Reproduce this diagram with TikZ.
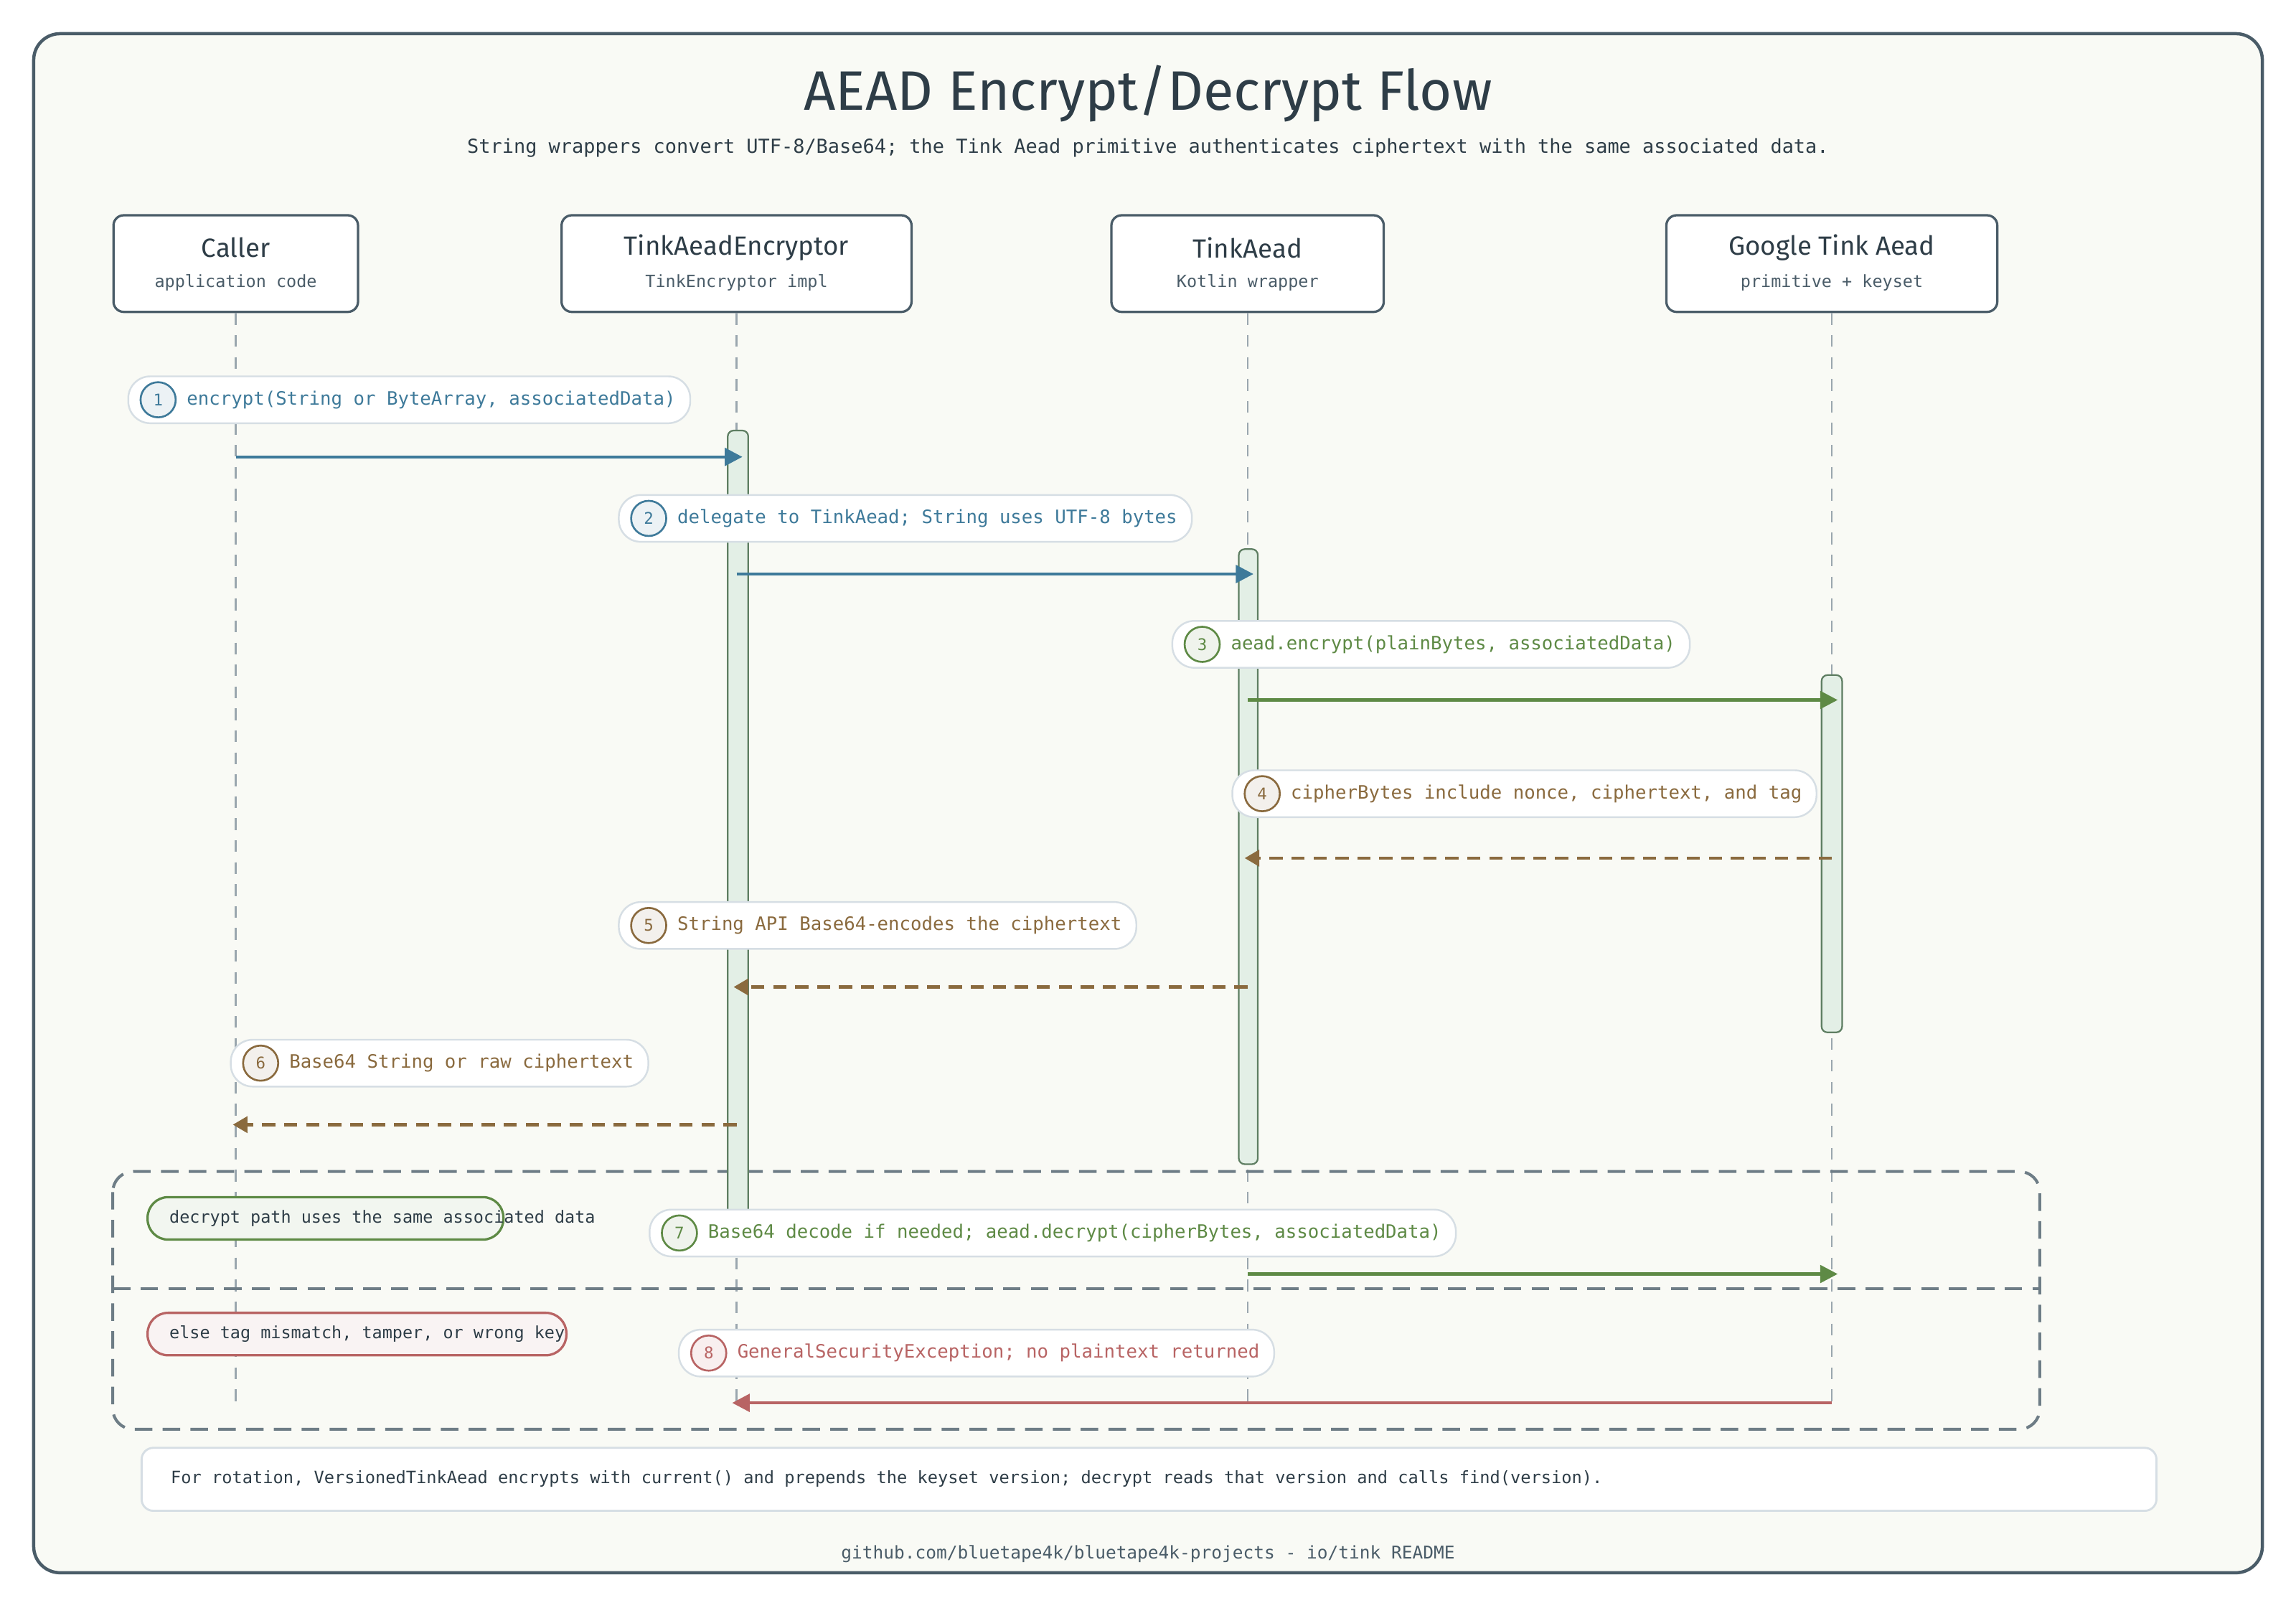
\documentclass[tikz,border=0pt]{standalone}
\usepackage{fontspec}
\setmainfont{Fira Sans}
\newfontfamily\monofont{DejaVu Sans Mono}
\usetikzlibrary{arrows.meta}
\definecolor{bgc}{HTML}{F9FAF5}
\definecolor{ink}{HTML}{2E3D47}
\definecolor{framec}{HTML}{4A5C68}
\definecolor{lifec}{HTML}{9AA6AE}
\definecolor{bluec}{HTML}{3E7A9A}
\definecolor{greenc}{HTML}{5E8A45}
\definecolor{brownc}{HTML}{8A6A3E}
\definecolor{redc}{HTML}{B86464}
\definecolor{pillc}{HTML}{D6DEE4}
\definecolor{actc}{HTML}{E3EFE6}
\definecolor{actd}{HTML}{5E7E62}
\tikzset{every picture/.style={line width=0.75pt}}
\tikzset{
  actor/.style={draw=framec,line width=1.6pt,fill=white,rounded corners=7pt,align=center,inner sep=0pt},
  life/.style={draw=lifec,line width=1.2pt,dash pattern=on 8pt off 7pt},
  act/.style={draw=actd,fill=actc,line width=1.1pt,rounded corners=4pt},
  pill/.style={draw=pillc,fill=white,line width=1.2pt,rounded corners=15pt,minimum height=32pt,anchor=west,inner xsep=12pt,font=\monofont\fontsize{12.6}{14}\selectfont},
  num/.style={circle,draw=#1,line width=1.3pt,fill=#1!10,minimum size=24pt,inner sep=0pt,text=#1,font=\monofont\fontsize{11}{13}\selectfont},
  msg/.style={draw=#1,line width=2.2pt,-{Triangle[length=12pt,width=12pt]}},
  ret/.style={draw=#1,line width=2.2pt,dash pattern=on 9pt off 6pt,-{Triangle[length=10pt,width=11pt]}},
  tag/.style={draw=#1,line width=1.6pt,fill=#1!8,rounded corners=14pt,minimum height=29pt,anchor=west,font=\monofont\fontsize{11.5}{13}\selectfont,text=ink}
}
\begin{document}
\begin{tikzpicture}[x=1pt,y=1pt,yscale=-1]
\useasboundingbox (0,0) rectangle (1568,1098);
%Frame
\draw [draw=framec,fill=bgc,line width=2.2pt,rounded corners=18pt] (23,23) rectangle (1545,1074);
\node (title) at (784,64) {\fontsize{38}{44}\selectfont\color{ink}AEAD Encrypt/Decrypt Flow};
\node (subtitle) at (784,101) {\monofont\fontsize{13.2}{15}\selectfont\color{ink}String wrappers convert UTF-8/Base64; the Tink Aead primitive authenticates ciphertext with the same associated data.};

%Actors
\node [actor,minimum width=167pt,minimum height=66pt] (caller) at (161,180) {};
\node [actor,minimum width=239pt,minimum height=66pt] (enc) at (503,180) {};
\node [actor,minimum width=186pt,minimum height=66pt] (aead) at (852,180) {};
\node [actor,minimum width=226pt,minimum height=66pt] (google) at (1251,180) {};
\foreach \a/\t/\s in {caller/Caller/application code,enc/TinkAeadEncryptor/TinkEncryptor impl,aead/TinkAead/Kotlin wrapper,google/Google Tink Aead/primitive + keyset}{
  \node [text=ink,font=\fontsize{18}{20}\selectfont] (\a-t) at ([yshift=-11pt]\a.center) {\t};
  \node [text=framec,font=\monofont\fontsize{11.5}{13}\selectfont] (\a-s) at ([yshift=13pt]\a.center) {\s};
}

%Lifelines
\coordinate (caller-e) at (161,958);
\coordinate (enc-e) at (503,958);
\coordinate (aead-e) at (852,958);
\coordinate (google-e) at (1251,958);
\foreach \a in {caller,enc,aead,google}
  \draw [life] (\a.south) -- (\a-e);

%Alt frame
\draw [draw=framec!80,line width=2pt,dash pattern=on 12pt off 7pt,rounded corners=14pt] (77,800) rectangle (1393,976);
\draw [draw=framec!80,line width=2pt,dash pattern=on 12pt off 7pt] (77,880) -- (1393,880);

%Activations
\draw [act] (497,294) rectangle (511,830);
\draw [act] (846,375) rectangle (859,795);
\draw [act] (1244,461) rectangle (1258,705);

%Messages
\coordinate (c1) at (161,312); \coordinate (e1) at (507,312);
\coordinate (e2) at (503,392); \coordinate (a2) at (856,392);
\coordinate (a3) at (852,478); \coordinate (g3) at (1255,478);
\coordinate (g4) at (1251,586); \coordinate (a4) at (850,586);
\coordinate (a5) at (852,674); \coordinate (e5) at (501,674);
\coordinate (e6) at (503,768); \coordinate (c6) at (159,768);
\coordinate (a7) at (852,870); \coordinate (g7) at (1255,870);
\coordinate (g8) at (1251,958); \coordinate (e8) at (500,958);
\draw [msg=bluec] (c1) -- (e1);
\draw [msg=bluec] (e2) -- (a2);
\draw [msg=greenc] (a3) -- (g3);
\draw [ret=brownc] (g4) -- (a4);
\draw [ret=brownc] (a5) -- (e5);
\draw [ret=brownc] (e6) -- (c6);

%Tags
\node [tag=greenc,minimum width=243pt] (tagok) at (100,832) {};
\node [anchor=west,font=\monofont\fontsize{11.5}{13}\selectfont,text=ink] (tagok-t) at (112,832) {decrypt path uses the same associated data};
\node [tag=redc,minimum width=286pt] (tagbad) at (100,911) {};
\node [anchor=west,font=\monofont\fontsize{11.5}{13}\selectfont,text=ink] (tagbad-t) at (112,911) {else tag mismatch, tamper, or wrong key};

\draw [msg=greenc] (a7) -- (g7);
\draw [msg=redc] (g8) -- (e8);

%Labels
\foreach \n/\x/\y/\c/\t in {1/87/273/bluec/encrypt(String or ByteArray{,} associatedData),
  2/422/354/bluec/delegate to TinkAead; String uses UTF-8 bytes,
  3/800/440/greenc/aead.encrypt(plainBytes{,} associatedData),
  4/841/542/brownc/cipherBytes include nonce{,} ciphertext{,} and tag,
  5/422/632/brownc/String API Base64-encodes the ciphertext,
  6/157/726/brownc/Base64 String or raw ciphertext,
  7/443/842/greenc/Base64 decode if needed; aead.decrypt(cipherBytes{,} associatedData),
  8/463/924/redc/GeneralSecurityException; no plaintext returned}{
  \node [pill,text=\c,inner xsep=10pt] (lbl\n) at (\x,\y) {\hspace{30pt}\t};
  \node [num=\c] (num\n) at (\x+21,\y) {\n};
}

%Note
\node [draw=pillc,fill=white,line width=1.4pt,rounded corners=8pt,minimum width=1376pt,minimum height=43pt,anchor=north west] (note) at (96,988) {};
\node [anchor=west,text=ink,font=\monofont\fontsize{11.6}{13}\selectfont] (note-t) at (113,1010) {For rotation, VersionedTinkAead encrypts with current() and prepends the keyset version; decrypt reads that version and calls find(version).};
\node [text=framec,font=\monofont\fontsize{12}{13}\selectfont] (footer) at (784,1061) {github.com/bluetape4k/bluetape4k-projects - io/tink README};
\end{tikzpicture}
\end{document}
